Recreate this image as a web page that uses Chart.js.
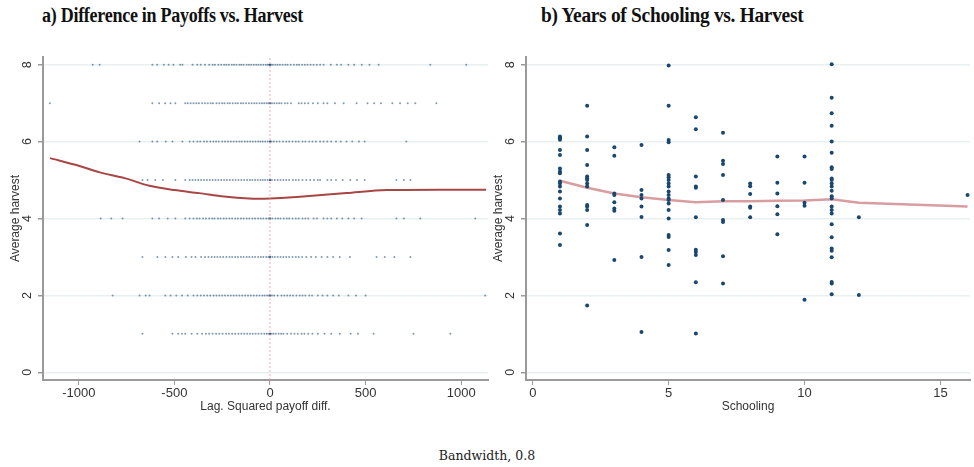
<!DOCTYPE html>
<html>
<head>
<meta charset="utf-8">
<script src="https://cdn.jsdelivr.net/npm/chart.js@4"></script>
<style>
    body { margin: 0; background: #fff; width: 974px; height: 467px; overflow: hidden; position: relative; }
    .box { position: absolute; }
    .ttl { position: absolute; top: 4px; font-family: "Liberation Serif", serif; font-weight: bold; font-size: 20px; color: #111; white-space: nowrap; letter-spacing: -0.3px; transform-origin: 0 0; }
    .foot { position: absolute; top: 448px; left: 0; width: 974px; text-align: center; font-family: "DejaVu Serif", serif; font-size: 12.5px; color: #222; }
</style>
</head>
<body>
<div class="ttl" style="left:42px;transform:scaleX(0.9)">a) Difference in Payoffs vs. Harvest</div>
<div class="ttl" style="left:541px;transform:scaleX(0.97)">b) Years of Schooling vs. Harvest</div>
<div class="box" style="left:0;top:0;width:492px;height:420px"><canvas id="chartA"></canvas></div>
<div class="box" style="left:483px;top:0;width:491px;height:420px"><canvas id="chartB"></canvas></div>
<div class="foot">Bandwidth, 0.8</div>
<script>
// panel a: lagged squared payoff difference, one list per harvest level
var harvestLevels = [8, 7, 6, 5, 4, 3, 2, 1];
var payoffRow8 = [-927, -891, -615, -590, -555, -530, -505, -470, -458, -405, -380, -362, -340, -318, -300, -288, -270, -255, -240, -228, -215, -200, -188, -175, -160, -150, -138, -122, -110, -98, -85, -72, -60, -48, -35, -22, -12, -5, 0, 0, 0, 6, 15, 28, 40, 52, 66, 80, 92, 108, 125, 140, 152, 168, 182, 196, 212, 228, 245, 262, 280, 318, 350, 372, 410, 440, 480, 520, 568, 838, 1026];
var payoffRow7 = [-1151, -615, -580, -548, -520, -495, -443, -430, -415, -400, -385, -372, -355, -340, -325, -310, -298, -280, -265, -250, -238, -222, -210, -195, -180, -168, -152, -140, -125, -110, -96, -82, -70, -55, -42, -30, -18, -8, 0, 0, 0, 10, 22, 35, 48, 60, 78, 92, 110, 150, 165, 182, 200, 225, 250, 280, 300, 340, 385, 453, 510, 545, 580, 640, 680, 720, 760, 870];
var payoffRow6 = [-682, -615, -590, -545, -510, -458, -420, -400, -380, -365, -345, -330, -312, -296, -282, -268, -250, -235, -220, -205, -190, -175, -160, -148, -132, -118, -104, -90, -76, -62, -50, -38, -25, -12, 0, 0, 0, 8, 20, 35, 50, 68, 85, 100, 118, 135, 150, 170, 185, 205, 222, 240, 262, 280, 300, 320, 345, 370, 400, 430, 465, 495, 713];
var payoffRow5 = [-667, -640, -600, -560, -495, -443, -420, -405, -390, -375, -360, -345, -330, -315, -300, -285, -270, -255, -240, -225, -210, -195, -180, -165, -150, -135, -120, -105, -92, -78, -64, -50, -38, -25, -12, 0, 0, 0, 0, 10, 25, 40, 55, 70, 85, 100, 120, 135, 150, 170, 190, 210, 230, 250, 262, 300, 320, 345, 380, 420, 455, 495, 661, 700, 734];
var payoffRow4 = [-885, -830, -771, -615, -580, -535, -495, -443, -420, -400, -382, -368, -350, -335, -318, -302, -290, -272, -258, -242, -228, -212, -198, -182, -168, -152, -138, -122, -108, -92, -78, -62, -48, -35, -20, -8, 0, 0, 0, 12, 28, 42, 55, 72, 88, 100, 118, 135, 150, 170, 185, 200, 228, 245, 280, 300, 320, 350, 378, 410, 440, 479, 661, 700, 786, 1073];
var payoffRow3 = [-667, -589, -547, -510, -480, -440, -410, -390, -360, -340, -322, -305, -290, -275, -260, -245, -228, -212, -198, -182, -168, -152, -138, -122, -108, -92, -78, -62, -48, -35, -20, -8, 0, 0, 0, 12, 25, 40, 55, 70, 85, 100, 118, 135, 150, 168, 190, 215, 240, 270, 300, 330, 365, 418, 557, 600, 650, 734];
var payoffRow2 = [-823, -682, -650, -630, -547, -520, -490, -460, -430, -400, -380, -362, -345, -328, -312, -295, -280, -265, -250, -235, -220, -205, -190, -175, -160, -145, -130, -115, -100, -85, -70, -55, -40, -28, -15, -5, 0, 0, 0, 10, 22, 40, 60, 75, 90, 105, 120, 138, 155, 170, 185, 205, 220, 250, 275, 300, 330, 360, 410, 450, 500, 1125];
var payoffRow1 = [-667, -510, -480, -460, -443, -410, -380, -355, -335, -318, -300, -282, -265, -248, -230, -215, -198, -182, -165, -150, -135, -120, -105, -90, -75, -60, -45, -30, -18, -8, 0, 0, 0, 8, 18, 30, 45, 58, 70, 90, 110, 128, 145, 165, 180, 200, 222, 250, 285, 320, 365, 422, 460, 542, 750, 943];
var payoffRows = [payoffRow8, payoffRow7, payoffRow6, payoffRow5, payoffRow4, payoffRow3, payoffRow2, payoffRow1];

// lowess fit, panel a
var fitAx = [-1150, -1000, -890, -760, -630, -500, -370, -240, -110, 0, 140, 400, 610, 1130];
var fitAy = [5.57, 5.37, 5.2, 5.05, 4.85, 4.74, 4.66, 4.57, 4.52, 4.52, 4.56, 4.66, 4.74, 4.75];
var refLineX = 0;

// panel b: years of schooling vs average harvest
var schoolYears = [1, 2, 3, 4, 5, 6, 7, 8, 9, 10, 11, 12, 16];
var harvestBySchool = [
    [6.13, 6.09, 6.05, 6.1, 5.78, 5.65, 5.3, 5.22, 5.18, 4.96, 4.91, 4.83, 4.7, 4.52, 4.31, 4.22, 4.13, 3.61, 3.31],
    [6.93, 6.13, 5.78, 5.39, 5.09, 5.04, 5.0, 4.91, 4.83, 4.35, 4.31, 4.22, 3.83, 1.74],
    [5.85, 5.63, 4.65, 4.61, 4.42, 4.26, 4.2, 2.92],
    [5.91, 4.74, 4.61, 4.52, 4.31, 4.04, 3.0, 1.05],
    [7.98, 6.93, 6.04, 5.98, 5.13, 5.07, 5.0, 4.91, 4.83, 4.7, 4.61, 4.52, 4.48, 4.39, 4.22, 4.0, 3.57, 3.52, 3.18, 2.79],
    [6.63, 6.32, 5.09, 4.83, 4.8, 4.03, 3.19, 3.13, 3.05, 2.34, 1.01],
    [6.23, 5.5, 5.42, 5.13, 4.48, 3.96, 3.91, 3.02, 2.31],
    [4.91, 4.84, 4.64, 4.31, 4.28, 4.03],
    [5.61, 4.93, 4.65, 4.32, 4.11, 3.59],
    [5.61, 4.93, 4.41, 4.33, 1.89],
    [8.01, 7.14, 6.74, 6.41, 6.0, 5.71, 5.33, 5.29, 5.04, 5.0, 4.91, 4.83, 4.72, 4.58, 4.52, 4.31, 4.22, 4.13, 3.85, 3.51, 3.22, 3.16, 2.99, 2.35, 2.31, 2.03],
    [4.03, 2.01],
    [4.61]
];
var fitBx = [1, 2, 3, 4, 5, 6, 7, 8, 9, 10, 11, 12, 16];
var fitBy = [4.98, 4.8, 4.65, 4.55, 4.48, 4.42, 4.45, 4.45, 4.46, 4.47, 4.5, 4.41, 4.31];

var yTicks = [0, 2, 4, 6, 8];
var xTicksA = [-1000, -500, 0, 500, 1000];
var xTicksB = [0, 5, 10, 15];

var navy = '#1a476f';
var axisGrey = '#9a9a9a';
var labelFont = { family: 'Liberation Sans, Arial, sans-serif', size: 12 };

function toTicks(list) {
    return function (scale) {
        scale.ticks = list.map(function (v) { return { value: v }; });
    };
}

// y tick labels in Stata style, turned on their side
var sideLabels = {
    id: 'sideLabels',
    afterDraw: function (chart) {
        var ctx = chart.ctx;
        var ys = chart.scales.y;
        var x0 = chart.chartArea.left - 15;
        ctx.save();
        ctx.fillStyle = '#333';
        ctx.font = '12.5px "Liberation Sans", Arial, sans-serif';
        ctx.textAlign = 'center';
        ctx.textBaseline = 'middle';
        ys.ticks.forEach(function (t) {
            var py = ys.getPixelForValue(t.value);
            ctx.save();
            ctx.translate(x0, py);
            ctx.rotate(-Math.PI / 2);
            ctx.fillText(String(t.value), 0, 0);
            ctx.restore();
        });
        ctx.restore();
    }
};

function makeScales(xMin, xMax, xTicks, xTitle) {
    return {
        x: {
            type: 'linear', min: xMin, max: xMax,
            afterBuildTicks: toTicks(xTicks),
            afterFit: function (s) { s.height = 40; },
            grid: { drawOnChartArea: false, drawTicks: true, tickLength: 5, tickColor: axisGrey },
            border: { color: axisGrey, width: 2 },
            ticks: {
                color: '#333', font: { family: labelFont.family, size: 13 }, padding: 1, maxRotation: 0,
                callback: function (v) { return String(v); }
            },
            title: { display: true, text: xTitle, color: '#333', font: labelFont, padding: { top: 0, bottom: 6 } }
        },
        y: {
            type: 'linear', min: -0.2, max: 8.2,
            afterBuildTicks: toTicks(yTicks),
            afterFit: function (s) { s.width = 43; },
            grid: { color: '#e8f0f2', lineWidth: 1.5, drawTicks: true, tickLength: 5, tickColor: axisGrey },
            border: { color: axisGrey, width: 2 },
            ticks: { display: false },
            title: { display: true, text: 'Average harvest', color: '#333', font: labelFont, padding: { top: 8, bottom: 0 } }
        }
    };
}

function baseOptions(scales) {
    return {
        responsive: true,
        maintainAspectRatio: false,
        animation: false,
        layout: { padding: { top: 57, right: 2, bottom: 0, left: 0 } },
        plugins: { legend: { display: false }, tooltip: { enabled: false } },
        scales: scales
    };
}

function renderPayoffs() {
    var canvas = document.getElementById('chartA');
    var points = [];
    payoffRows.forEach(function (row, i) {
        row.forEach(function (v) { points.push({ x: v, y: harvestLevels[i] }); });
    });
    var fit = fitAx.map(function (v, i) { return { x: v, y: fitAy[i] }; });
    var chart = new Chart(canvas, {
        type: 'scatter',
        data: {
            datasets: [
                { data: [{ x: refLineX, y: -0.2 }, { x: refLineX, y: 8.2 }], showLine: true, pointRadius: 0, borderColor: 'rgba(230,140,150,0.7)', borderWidth: 1, borderDash: [2, 2] },
                { data: points, pointRadius: 1, pointBorderWidth: 0, backgroundColor: 'rgba(26,71,111,0.55)' },
                { data: fit, showLine: true, pointRadius: 0, borderColor: '#aa4545', borderWidth: 2, tension: 0.3 }
            ]
        },
        options: baseOptions(makeScales(-1187, 1140, xTicksA, 'Lag. Squared payoff diff.')),
        plugins: [sideLabels]
    });
    return chart;
}

function renderSchooling() {
    var canvas = document.getElementById('chartB');
    var points = [];
    schoolYears.forEach(function (yr, i) {
        harvestBySchool[i].forEach(function (h) { points.push({ x: yr, y: h }); });
    });
    var fit = fitBx.map(function (v, i) { return { x: v, y: fitBy[i] }; });
    var opts = baseOptions(makeScales(-0.25, 16.09, xTicksB, 'Schooling'));
    opts.layout.padding.right = 0;
    var chart = new Chart(canvas, {
        type: 'scatter',
        data: {
            datasets: [
                { data: points, pointRadius: 2, pointBorderWidth: 0, backgroundColor: navy },
                { data: fit, showLine: true, pointRadius: 0, borderColor: 'rgba(200,115,120,0.7)', borderWidth: 2.5 }
            ]
        },
        options: opts,
        plugins: [sideLabels]
    });
    return chart;
}

renderPayoffs();
renderSchooling();
</script>
</body>
</html>
